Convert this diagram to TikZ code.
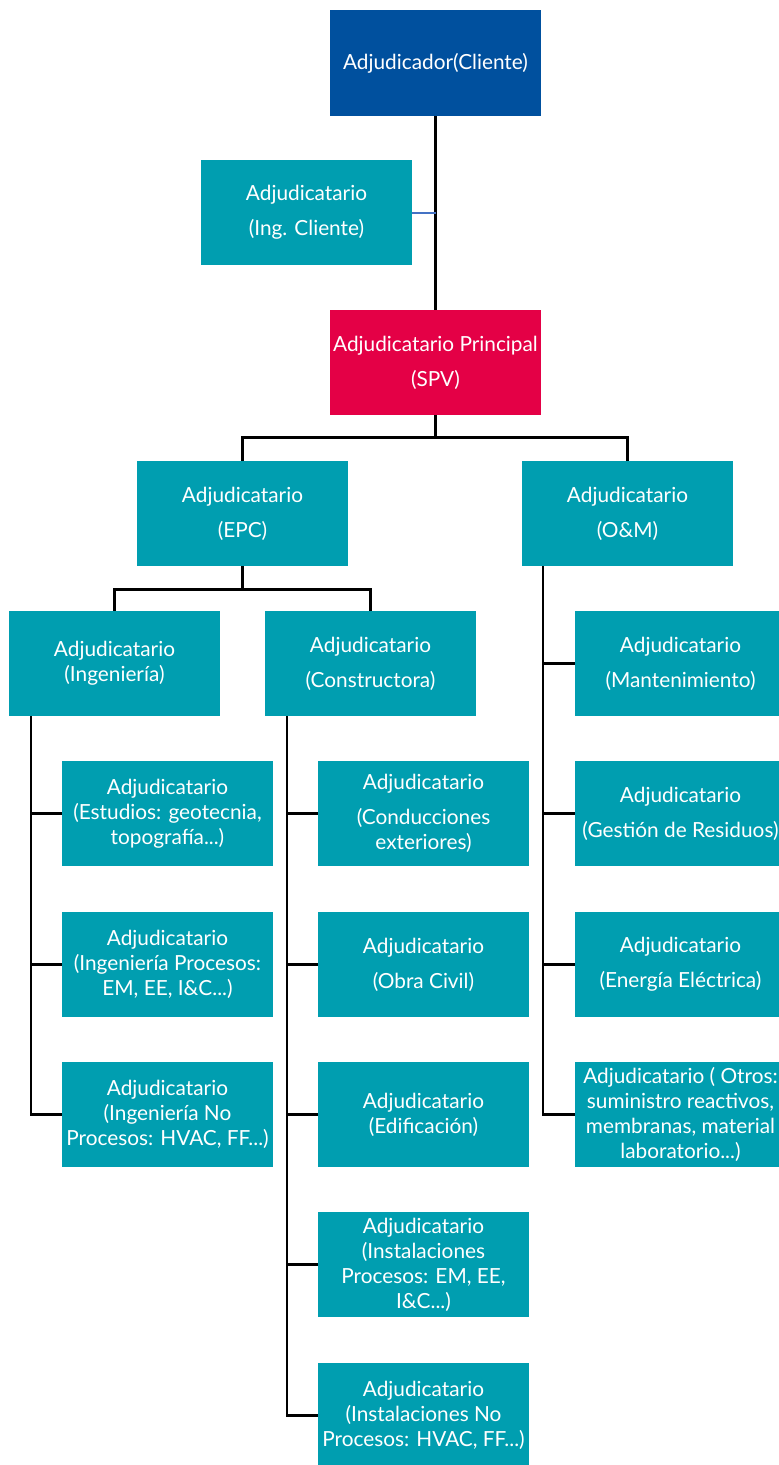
\documentclass[tikz,border=0pt]{standalone}
\usepackage{fontspec}
\setmainfont{Lato}
\definecolor{tealbox}{RGB}{0,158,176}
\definecolor{bluebox}{RGB}{0,80,158}
\definecolor{redbox}{RGB}{228,0,70}
\definecolor{thinblue}{RGB}{68,114,196}
\begin{document}
\begin{tikzpicture}[x=1pt,y=-1pt,
  box/.style={rectangle, fill=tealbox, text=white, minimum width=211pt, minimum height=105pt,
    inner sep=0pt, align=center, font=\fontsize{20.8}{25}\selectfont},
  conn/.style={draw=black, line width=2.6pt}]
\clip (0,0) rectangle (779,1465);
\fill[white] (0,0) rectangle (779,1465);
% top
\node[box, fill=bluebox, minimum height=106pt] (cli) at (435.5,63) {Adjudicador(Cliente)};
\node[box] (ingc) at (306.5,212.5) {Adjudicatario\\[10pt](Ing. Cliente)};
\node[box, fill=redbox] (spv) at (435.5,362.5) {Adjudicatario Principal\\[10pt](SPV)};
% level 2
\node[box] (epc) at (242.5,513.5) {Adjudicatario\\[10pt](EPC)};
\node[box] (om) at (627.5,513.5) {Adjudicatario\\[10pt](O\&M)};
% level 3
\node[box] (ingen) at (114.5,663.5) {Adjudicatario\\(Ingeniería)};
\node[box] (cons) at (370.5,663.5) {Adjudicatario\\[10pt](Constructora)};
% Ingenieria children
\node[box] (e1) at (167.5,813.5) {Adjudicatario\\(Estudios: geotecnia,\\topografía...)};
\node[box] (e2) at (167.5,964.5) {Adjudicatario\\(Ingeniería Procesos:\\EM, EE, I\&C...)};
\node[box] (e3) at (167.5,1114.5) {Adjudicatario\\(Ingeniería No\\Procesos: HVAC, FF...)};
% Constructora children
\node[box] (c1) at (423.5,813.5) {Adjudicatario\\[10pt](Conducciones\\exteriores)};
\node[box] (c2) at (423.5,964.5) {Adjudicatario\\[10pt](Obra Civil)};
\node[box] (c3) at (423.5,1114.5) {Adjudicatario\\(Edificación)};
\node[box] (c4) at (423.5,1264.5) {Adjudicatario\\(Instalaciones\\Procesos: EM, EE,\\I\&C...)};
\node[box] (c5) at (423.5,1415.5) {Adjudicatario\\(Instalaciones No\\Procesos: HVAC, FF...)};
% O&M children
\node[box] (m1) at (680.5,663.5) {Adjudicatario\\[10pt](Mantenimiento)};
\node[box] (m2) at (680.5,813.5) {Adjudicatario\\[10pt](Gestión de Residuos)};
\node[box] (m3) at (680.5,964.5) {Adjudicatario\\[10pt](Energía Eléctrica)};
\node[box] (m4) at (680.5,1114.5) {Adjudicatario ( Otros:\\suministro reactivos,\\membranas, material\\laboratorio...)};
% connectors
\draw[conn] (cli.south) -- (spv.north);
\draw[draw=thinblue, line width=2pt] (ingc.east) -- (ingc.east -| cli.south);
\coordinate (j1) at ([yshift=-22pt]spv.south);
\draw[conn] (spv.south) -- (j1);
\draw[conn] (epc.north) |- (j1) -| (om.north);
\coordinate (j2) at ([yshift=-23pt]epc.south);
\draw[conn] (epc.south) -- (j2);
\draw[conn] (ingen.north) |- (j2) -| (cons.north);
% spines
\coordinate (s1) at ([xshift=22pt]ingen.south west);
\draw[conn] (s1) |- (e3.west);
\draw[conn] (e1.west) -- (e1.west -| s1);
\draw[conn] (e2.west) -- (e2.west -| s1);
\coordinate (s2) at ([xshift=22pt]cons.south west);
\draw[conn] (s2) |- (c5.west);
\draw[conn] (c1.west) -- (c1.west -| s2);
\draw[conn] (c2.west) -- (c2.west -| s2);
\draw[conn] (c3.west) -- (c3.west -| s2);
\draw[conn] (c4.west) -- (c4.west -| s2);
\coordinate (s3) at ([xshift=21pt]om.south west);
\draw[conn] (s3) |- (m4.west);
\draw[conn] (m1.west) -- (m1.west -| s3);
\draw[conn] (m2.west) -- (m2.west -| s3);
\draw[conn] (m3.west) -- (m3.west -| s3);
\end{tikzpicture}
\end{document}
